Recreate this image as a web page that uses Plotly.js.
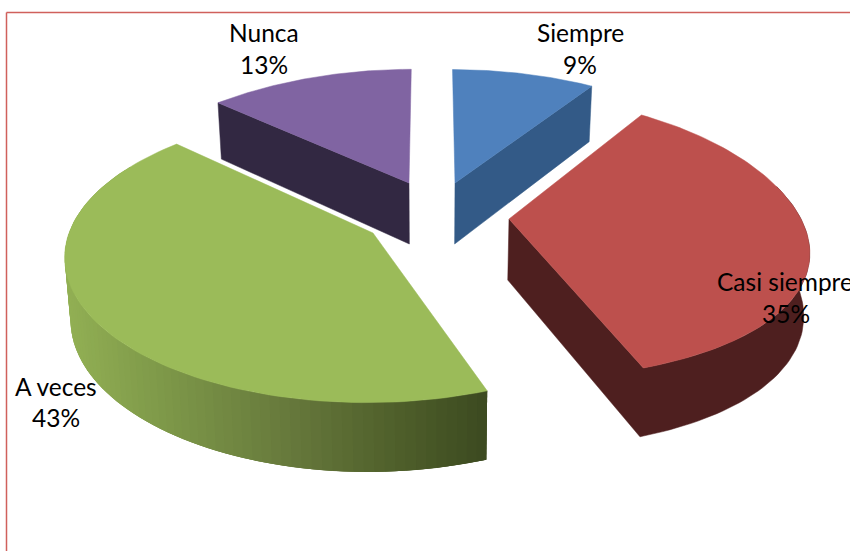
<!DOCTYPE html>
<html><head><meta charset="utf-8">
<script src="https://cdn.plot.ly/plotly-3.0.1.min.js"></script>
<style>html,body{margin:0;padding:0;background:#fff;overflow:hidden}#c{width:850px;height:551px}</style>
</head><body><div id="c"></div>
<script>
// Chart data
const categories = ["Siempre", "Casi siempre", "A veces", "Nunca"];
const values = [9.45, 35.05, 42.6, 12.9];
const percentLabels = ["9%", "35%", "43%", "13%"];

// Styling
const topColors = ["#4f81bd", "#bd504d", "#9bbb59", "#8064a2"];
const wallColors = ["#335a87", "#4e1f1f", null, "#322842"];
const drawOrder = [3, 0, 1, 2];
const apexX = [455, 509, 373, 409];
const apexY = [183, 219, 233, 183];
const radiusX = [291, 292, 304, 304];
const perspX = [0.208, 0.208, 0.15, 0.208];
const radiusY = [137, 139, 143, 123];
const perspY = [0.208, 0.13, 0.157, 0.082];
const labelX = [580, 715, 56, 264];
const labelAnchor = ["center", "left", "center", "center"];
const nameY = [32, 281, 386, 32];
const pctX = [580, 786, 56, 264];
const pctY = [64, 313, 417, 64];

const VF = 0.6, VX = 431;
const total = values.reduce((a, b) => a + b, 0);

function rim(i, deg) {
  const t = deg * Math.PI / 180, c = Math.cos(t);
  const px = 1 / (1 + perspX[i] * c), py = 1 / (1 + perspY[i] * c);
  return [apexX[i] + radiusX[i] * Math.sin(t) * px + (apexX[i] - VX) * (px - 1) * VF,
          apexY[i] - radiusY[i] * c * py, c];
}
function drop(pt, cosv) {
  const h = 61 / (1 + 0.12 * cosv);
  return [pt[0] - (pt[0] - VX) * 0.016, pt[1] + h];
}
function poly(pts, color, width) {
  return {type: "scatter", mode: "lines", x: pts.map(p => p[0]).concat(pts[0][0]),
    y: pts.map(p => p[1]).concat(pts[0][1]), fill: "toself", fillcolor: color,
    line: {color: color, width: width}, hoverinfo: "skip", showlegend: false};
}
function mix(stops, x) {
  for (let s = 0; s < stops.length - 1; s++) {
    const a = stops[s], b = stops[s + 1];
    if (x <= b[0]) {
      const f = Math.max(0, (x - a[0]) / (b[0] - a[0]));
      return "rgb(" + [1, 2, 3].map(c => Math.round(a[c] + (b[c] - a[c]) * f)).join(",") + ")";
    }
  }
  const l = stops[stops.length - 1];
  return "rgb(" + l[1] + "," + l[2] + "," + l[3] + ")";
}
const greenStops = [[64, 146, 176, 84], [150, 128, 155, 74], [300, 100, 118, 58], [400, 78, 94, 42], [487, 60, 74, 32]];

const starts = [];
let acc = 0;
values.forEach(v => { starts.push(acc / total * 360); acc += v; });
const ends = starts.map((s, i) => s + values[i] / total * 360);

const traces = [];
drawOrder.forEach(i => {
  const a = starts[i], b = ends[i], n = 90;
  const apex = [apexX[i], apexY[i]];
  const apexB = drop(apex, 0);
  const pts = [];
  for (let j = 0; j <= n; j++) pts.push(rim(i, a + (b - a) * j / n));

  if (i === 0) { // right radial wall
    traces.push(poly([apex, pts[n], drop(pts[n], pts[n][2]), apexB], wallColors[i], 0.5));
  }
  if (i === 3) { // left radial wall
    traces.push(poly([apex, pts[0], drop(pts[0], pts[0][2]), apexB], wallColors[i], 0.5));
  }
  if (i === 1) { // radial wall and outer wall as one outline
    const w = pts.filter(p => p[2] < 0.25);
    const lower = w.map(p => drop(p, p[2])).reverse();
    traces.push(poly([apex, apexB].concat(lower, w), wallColors[i], 0.5));
  }
  if (i === 2) { // outer wall with horizontal shading, segments overlap to hide seams
    const w = pts.filter(p => p[2] < 0.5);
    for (let j = w.length - 1; j > 0; j--) {
      const q = w[j], p = w[Math.max(0, j - 3)], r = w[j - 1];
      traces.push(poly([p, r, q, drop(q, q[2]), drop(r, r[2]), drop(p, p[2])], mix(greenStops, (r[0] + q[0]) / 2), 0));
    }
  }
  traces.push(poly([apex].concat(pts), topColors[i], 0.5));
});

const annotations = [];
categories.forEach((c, i) => {
  annotations.push({x: labelX[i], y: nameY[i], text: c, xref: "x", yref: "y", showarrow: false,
    xanchor: labelAnchor[i], yanchor: "middle"});
  annotations.push({x: pctX[i], y: pctY[i], text: percentLabels[i], xref: "x", yref: "y", showarrow: false,
    xanchor: "center", yanchor: "middle"});
});

const hidden = {visible: false, fixedrange: true, autorange: false};
Plotly.newPlot("c", traces, {
  width: 850, height: 551, margin: {l: 0, r: 0, t: 0, b: 0},
  paper_bgcolor: "#ffffff", plot_bgcolor: "#ffffff", showlegend: false,
  font: {family: "Lato, 'Open Sans', sans-serif", size: 24.5, color: "#000000"},
  xaxis: Object.assign({range: [0, 850]}, hidden),
  yaxis: Object.assign({range: [551, 0]}, hidden),
  annotations: annotations,
  shapes: [
    {type: "line", xref: "x", yref: "y", x0: 6.5, y0: 12.5, x1: 6.5, y1: 551, line: {color: "#d0605c", width: 1.5}},
    {type: "line", xref: "x", yref: "y", x0: 6.5, y0: 12.5, x1: 850, y1: 12.5, line: {color: "#d0605c", width: 1.5}}
  ]
}, {displayModeBar: false, staticPlot: true});
</script></body></html>
